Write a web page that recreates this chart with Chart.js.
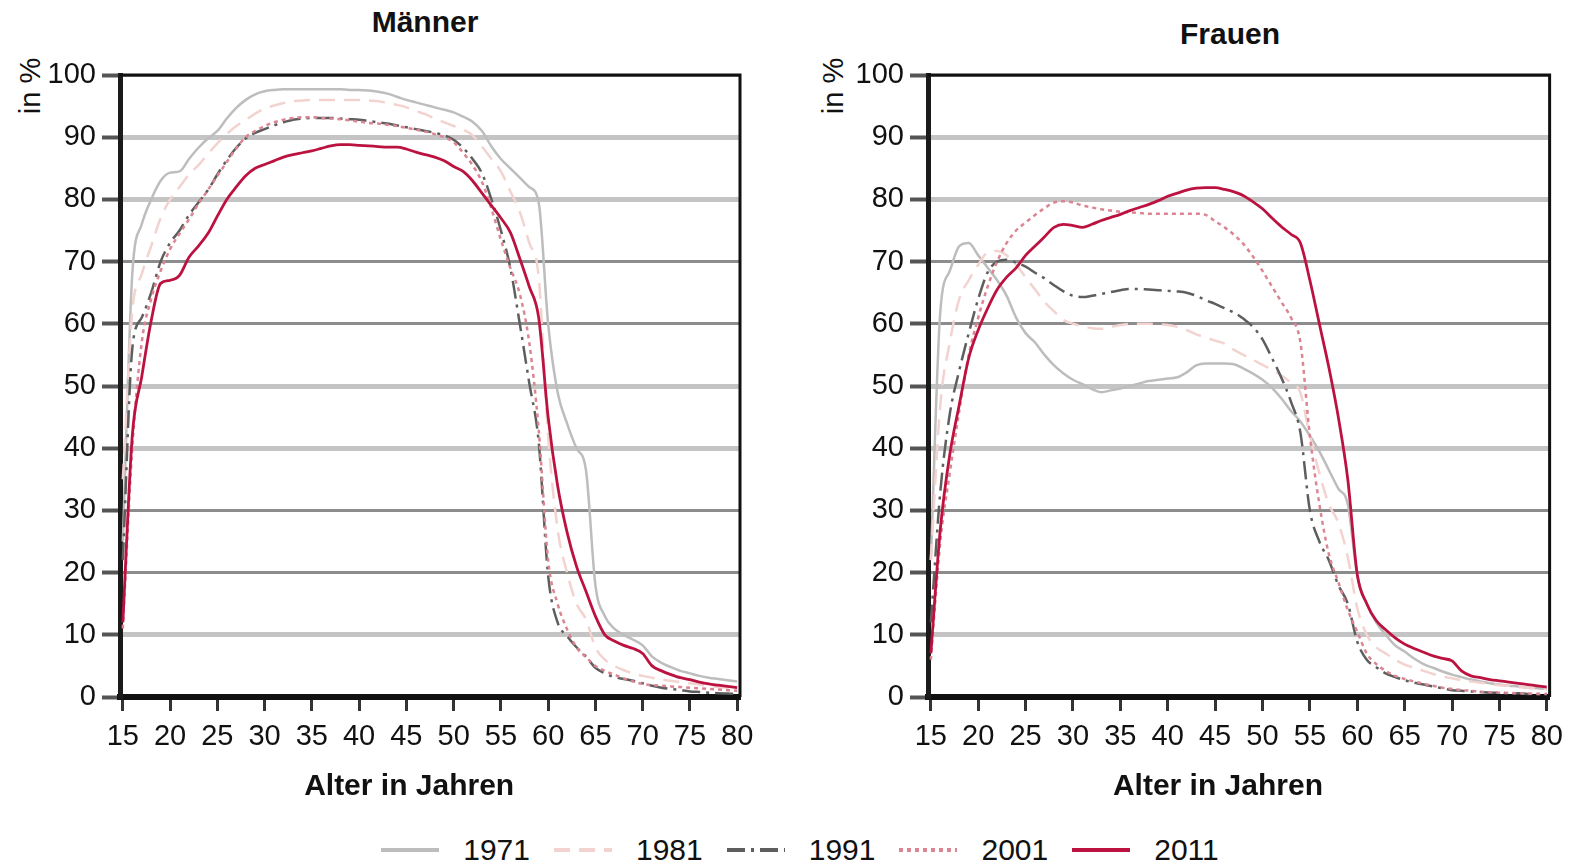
<!DOCTYPE html>
<html lang="de">
<head>
<meta charset="utf-8">
<title>Erwerbsquoten nach Alter</title>
<script src="https://cdn.jsdelivr.net/npm/chart.js@4.4.1/dist/chart.umd.min.js"></script>
<style>
  html, body { margin: 0; padding: 0; background: #fff; }
  body { width: 1572px; height: 864px; position: relative; overflow: hidden;
         font-family: 'Liberation Sans', Arial, Helvetica, sans-serif; color: #111; }
  canvas { position: absolute; top: 0; }
  #men { left: 0; }
  #women { left: 786px; }
  .title { position: absolute; font-weight: bold; font-size: 30px; transform: translate(-50%, -50%); white-space: nowrap; }
  .unit { position: absolute; font-size: 29px; transform: translate(-50%, -50%) rotate(-90deg); white-space: nowrap; }
  #legend { position: absolute; top: 833px; left: 0; width: 1600px; display: flex; justify-content: center; align-items: center; font-size: 30px; }
  #legend .item { display: flex; align-items: center; margin: 0 12px; }
  #legend svg { margin-right: 24px; }
</style>
</head>
<body>
<div class="title" style="left:425px; top:22px;">Männer</div>
<div class="title" style="left:1230px; top:34px;">Frauen</div>
<div class="unit" style="left:30px; top:86px;">in %</div>
<div class="unit" style="left:833px; top:86px;">in %</div>
<canvas id="men" width="786" height="820"></canvas>
<canvas id="women" width="786" height="820"></canvas>
<div id="legend"></div>
<script>
// Alter in Jahren
const ages = [15, 16, 17, 18, 19, 20, 21, 22, 23, 24, 25, 26, 27, 28, 29, 30, 31, 32, 33, 34, 35, 36, 37, 38, 39, 40,
  41, 42, 43, 44, 45, 46, 47, 48, 49, 50, 51, 52, 53, 54, 55, 56, 57, 58, 59, 60, 61, 62, 63, 64, 65, 66, 67, 68, 69, 70,
  71, 72, 73, 74, 75, 76, 77, 78, 79, 80];
const xTicks = [15, 20, 25, 30, 35, 40, 45, 50, 55, 60, 65, 70, 75, 80];
const years = ['1971', '1981', '1991', '2001', '2011'];

// Männer, in %
const men1971 = [25, 68, 76, 80, 83, 84.3, 84.5, 86.5, 88.3, 89.8, 91, 93, 94.7, 96, 96.9, 97.4, 97.6, 97.7, 97.7, 97.7,
  97.7, 97.7, 97.7, 97.7, 97.6, 97.6, 97.5, 97.3, 97, 96.5, 96, 95.6, 95.2, 94.8, 94.4, 94, 93.3, 92.5, 91, 88.5,
  86.5, 85, 83.5, 82, 79.5, 60, 49, 44, 40, 36.5, 18, 13, 11, 10, 9.2, 8.3, 6.5, 5.5, 4.8, 4.2, 3.8, 3.4, 3.1, 2.9, 2.7, 2.5];
const men1981 = [35, 62, 68, 72.5, 77, 80, 82, 84, 85.5, 87.3, 89, 90.5, 91.8, 92.8, 93.8, 94.6, 95.1, 95.5, 95.8, 95.9,
  96, 96, 96, 96, 96, 96, 95.9, 95.8, 95.5, 95.2, 94.8, 94.2, 93.7, 93, 92.4, 91.8, 91.2, 90.3, 88.5, 86.5,
  84.5, 81.3, 78, 73, 67.5, 42, 27, 20, 15, 12.5, 8, 6, 5, 4.3, 3.8, 3.4, 3.1, 2.8, 2.6, 2.4, 2.2, 2, 1.8, 1.6, 1.5, 1.3];
const men1991 = [22, 56, 61, 65, 70, 73, 75, 77.5, 79.5, 81.5, 84, 86.3, 88.3, 89.8, 90.7, 91.3, 91.9, 92.4, 92.8, 93,
  93.1, 93.1, 93.1, 93, 92.9, 92.8, 92.6, 92.4, 92.2, 91.9, 91.6, 91.3, 91, 90.7, 90.3, 89.6, 88.3, 86.5, 84.2, 80,
  75, 69, 60, 50.5, 41, 19.5, 12, 9.8, 8, 6.5, 4.7, 3.8, 3.2, 2.9, 2.6, 2.2, 1.8, 1.5, 1.3, 1.1, 0.9, 0.8, 0.7, 0.6, 0.55, 0.5];
const men2001 = [11, 40, 57, 64, 68.5, 72, 74.5, 76.8, 79.3, 81.5, 83.8, 86, 88.2, 90, 91, 91.8, 92.4, 92.8, 93.1, 93.2,
  93.2, 93.1, 93, 92.9, 92.7, 92.5, 92.3, 92.2, 92, 91.8, 91.5, 91.2, 90.9, 90.5, 90, 89.2, 87.5, 85.5, 82.8, 78.5,
  73.5, 69, 64.8, 57, 43, 22, 15, 10.9, 8, 6.4, 5, 4.2, 3.6, 3, 2.5, 2.1, 1.9, 1.8, 1.7, 1.6, 1.5, 1.4, 1.3, 1.2, 1.1, 1];
const men2011 = [12, 42, 51.5, 60.5, 66.5, 67, 67.8, 70.7, 72.5, 74.5, 77.3, 80, 82, 83.8, 85, 85.6, 86.2, 86.8, 87.2, 87.5,
  87.8, 88.2, 88.6, 88.8, 88.8, 88.7, 88.6, 88.5, 88.4, 88.4, 88.1, 87.6, 87.2, 86.8, 86.2, 85.3, 84.5, 83, 81, 79,
  77, 74.7, 70.5, 66, 61, 45, 34, 26.5, 21, 17, 13, 10, 9, 8.3, 7.8, 7, 5, 4.2, 3.6, 3.1, 2.8, 2.4, 2.1, 1.9, 1.7, 1.5];

// Frauen, in %
const women1971 = [22, 62, 68.5, 72.5, 73, 71, 69, 67, 64.5, 61, 58.5, 57, 55, 53.3, 52, 51, 50.3, 49.5, 49, 49.3,
  49.6, 50, 50.4, 50.8, 51, 51.2, 51.4, 52.2, 53.3, 53.6, 53.6, 53.6, 53.5, 52.8, 52, 51, 49.7, 48, 46, 44.3,
  42, 39.5, 36.5, 33.5, 31, 19.5, 15, 12, 10, 8.3, 7.3, 6.2, 5.3, 4.7, 4.1, 3.6, 3.2, 2.8, 2.5, 2.2, 2, 1.8, 1.7, 1.5, 1.4, 1.3];
const women1981 = [22, 47, 57, 64, 67, 69.5, 71.5, 71.7, 71, 69.5, 67.5, 65.5, 63.5, 62, 60.6, 60, 59.6, 59.3, 59.2, 59.5,
  59.8, 60, 60, 60, 59.9, 59.8, 59.5, 59, 58.3, 57.8, 57.3, 56.8, 55.8, 55, 54.2, 53.4, 52.6, 51.7, 50.5, 48.9,
  42, 36, 31, 28, 22.5, 14.3, 10, 8, 7, 6, 5.2, 4.7, 4.2, 3.7, 3.3, 3, 2.7, 2.5, 2.3, 2.1, 1.9, 1.8, 1.6, 1.5, 1.4, 1.3];
const women1991 = [12, 33, 45.5, 52.5, 58.5, 64, 68.3, 70, 70.3, 69.8, 69.2, 68.2, 67.3, 66.2, 65.2, 64.5, 64.3, 64.5, 64.8, 65.1,
  65.4, 65.6, 65.6, 65.5, 65.4, 65.3, 65.2, 65, 64.5, 63.8, 63.2, 62.5, 61.8, 60.8, 59.5, 57.5, 54.5, 51.3, 47.5, 42.5,
  30, 25, 22, 18, 15, 8.9, 6, 4.8, 3.8, 3.2, 2.7, 2.3, 2, 1.7, 1.4, 1.1, 1, 0.9, 0.8, 0.7, 0.7, 0.6, 0.6, 0.5, 0.5, 0.5];
const women2001 = [6, 25, 36, 46, 55, 61, 66, 70, 73, 75, 76.3, 77.5, 78.6, 79.5, 79.7, 79.5, 79, 78.7, 78.4, 78.2,
  78, 77.9, 77.8, 77.7, 77.7, 77.7, 77.7, 77.7, 77.7, 77.5, 76.5, 75.5, 74.3, 72.8, 70.8, 68.5, 66, 63.5, 61, 57,
  42, 31, 23, 18.5, 14, 10.5, 7, 5.3, 4.2, 3.4, 2.9, 2.5, 2.1, 1.8, 1.5, 1.3, 1.1, 1, 0.85, 0.75, 0.7, 0.65, 0.6, 0.55, 0.5, 0.5];
const women2011 = [7, 27, 39, 47, 54.5, 59, 62.5, 65.5, 67.5, 69, 71, 72.5, 74, 75.5, 76, 75.8, 75.5, 76, 76.6, 77.1,
  77.6, 78.2, 78.7, 79.2, 79.8, 80.5, 81, 81.5, 81.8, 81.9, 81.9, 81.6, 81.2, 80.6, 79.6, 78.5, 77, 75.6, 74.4, 73,
  67, 60, 53, 45, 35, 19.7, 15, 12.3, 10.8, 9.5, 8.5, 7.8, 7.2, 6.6, 6.2, 5.8, 4.2, 3.4, 3.1, 2.8, 2.6, 2.4, 2.2, 2, 1.8, 1.6];

const lineColors = ['#bdbdbd', '#f3d3cf', '#5e5e5e', '#db8593', '#bb1240'];
const lineDashes = [[], [16, 9], [18, 6, 3, 6], [4, 4], []];
const lineWidths = [2.5, 2.5, 2.5, 2.5, 2.8];

const font = "'Liberation Sans', Arial, Helvetica, sans-serif";
const thickGrid = [10, 40, 50, 80, 90];

const framePlugin = {
  id: 'frame',
  afterDatasetsDraw(chart) {
    const { ctx, chartArea: a } = chart;
    ctx.save();
    ctx.strokeStyle = '#111';
    ctx.lineWidth = 3;
    ctx.beginPath();
    ctx.moveTo(a.left, a.top);
    ctx.lineTo(a.right, a.top);
    ctx.lineTo(a.right, a.bottom);
    ctx.stroke();
    ctx.restore();
  }
};

function makeChart(id, series, axisWidth, padRight) {
  const ctx = document.getElementById(id).getContext('2d');
  return new Chart(ctx, {
    type: 'line',
    data: {
      datasets: series.map((values, i) => ({
        label: years[i],
        data: values.map((v, j) => ({ x: ages[j], y: v })),
        borderColor: lineColors[i],
        borderWidth: lineWidths[i],
        borderDash: lineDashes[i],
        pointRadius: 0,
        fill: false,
        cubicInterpolationMode: 'monotone',
        order: series.length - 1 - i,
      })),
    },
    options: {
      responsive: false,
      animation: false,
      devicePixelRatio: 1,
      layout: { padding: { left: 0, right: padRight, top: 75, bottom: 3 } },
      plugins: {
        legend: { display: false },
        tooltip: { enabled: false },
      },
      scales: {
        x: {
          type: 'linear',
          min: 14.7,
          max: 80.3,
          afterBuildTicks: (scale) => { scale.ticks = xTicks.map((v) => ({ value: v })); },
          afterFit: (scale) => { scale.height = 120; },
          ticks: {
            color: '#111',
            font: { family: font, size: 29 },
            padding: 9,
            maxRotation: 0,
            autoSkip: false,
          },
          grid: {
            drawOnChartArea: false,
            drawTicks: true,
            tickLength: 14,
            tickColor: '#333',
            tickWidth: 3,
          },
          border: { color: '#111', width: 6 },
          title: {
            display: true,
            // trailing spaces nudge the centred title a little to the left, as in the original
            text: 'Alter in Jahren     ',
            color: '#111',
            font: { family: font, size: 30, weight: 'bold' },
            padding: { top: 0, bottom: 12 },
          },
        },
        y: {
          min: 0,
          max: 100,
          afterFit: (scale) => { scale.width = axisWidth; },
          ticks: {
            stepSize: 10,
            color: '#111',
            font: { family: font, size: 29 },
            padding: 6,
          },
          grid: {
            color: (c) => (thickGrid.includes(c.tick && c.tick.value) ? '#c4c4c4' : '#8c8c8c'),
            lineWidth: (c) => (thickGrid.includes(c.tick && c.tick.value) ? 5 : 3),
            tickLength: 18,
            tickColor: '#555',
            tickWidth: 4,
          },
          border: { color: '#1a1a1a', width: 5 },
        },
      },
    },
    plugins: [framePlugin],
  });
}

makeChart('men', [men1971, men1981, men1991, men2001, men2011], 120, 46);
makeChart('women', [women1971, women1981, women1991, women2001, women2011], 142, 22);

// gemeinsame Legende
const legend = document.getElementById('legend');
years.forEach((year, i) => {
  const item = document.createElement('div');
  item.className = 'item';
  const dash = lineDashes[i].length ? ` stroke-dasharray="${lineDashes[i].join(' ')}"` : '';
  item.innerHTML = `<svg width="58" height="10"><line x1="0" y1="5" x2="58" y2="5" stroke="${lineColors[i]}" stroke-width="4"${dash}/></svg><span>${year}</span>`;
  legend.appendChild(item);
});
</script>
</body>
</html>
